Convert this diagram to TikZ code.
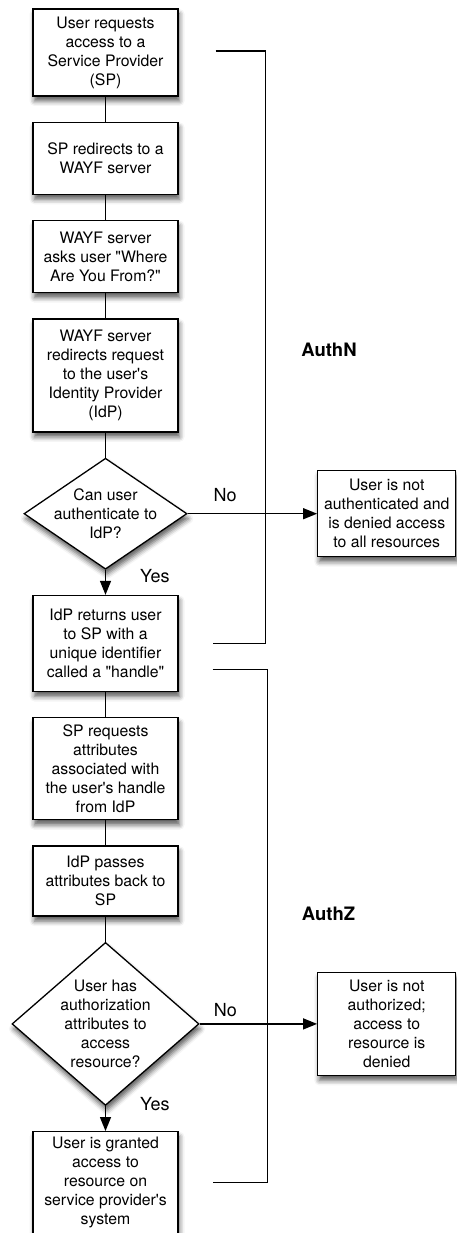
\documentclass[tikz,border=0pt]{standalone}
\usepackage{fontspec}
\newfontfamily\flowfont{TeX Gyre Heros}
\usetikzlibrary{%
  arrows.meta,%
  calc,%
  positioning,%
  shapes.geometric,%
  shadows.blur}

\begin{document}
\begin{tikzpicture}
  [x=1pt,y=1pt,node distance=25pt,line width=1.3pt,
   every node/.style={font=\flowfont\fontsize{15.8}{19}\selectfont},
   stepbox/.style={rectangle,draw=black,fill=white,align=center,
     minimum width=145pt,inner sep=2pt,
     blur shadow={shadow xshift=1.5pt,shadow yshift=-5pt,
       shadow blur radius=5pt,shadow opacity=65}},
   decision/.style={diamond,draw=black,fill=white,align=center,inner sep=-6pt,
     blur shadow={shadow xshift=1.5pt,shadow yshift=-5pt,
       shadow blur radius=5pt,shadow opacity=65}},
   link/.style={draw=black},
   branch/.style={-{Triangle[length=14pt,width=11pt]}},
   answer/.style={font=\flowfont\fontsize{18}{20}\selectfont,inner sep=0pt},
   phase/.style={font=\flowfont\fontsize{18.5}{20}\selectfont\bfseries},
   bracket/.style={draw=black}]

  \useasboundingbox (0,0) rectangle (456,-1233);

  % Authentication steps
  \node [stepbox,minimum height=87pt] (request) at (105.5,-52.5)
    {User requests\\access to a\\Service Provider\\(SP)};
  \node [stepbox,minimum height=72pt] (redirect) [below=of request]
    {SP redirects to a\\WAYF server};
  \node [stepbox,minimum height=72pt] (wayf)     [below=of redirect]
    {WAYF server\\asks user "Where\\Are You From?"};
  \node [stepbox,minimum height=113pt] (idp)     [below=of wayf]
    {WAYF server\\redirects request\\to the user's\\Identity Provider\\(IdP)};
  \node [decision,aspect=1.47,minimum width=163pt,minimum height=111pt]
                  (authn)    [below=of idp]
    {Can user\\authenticate to\\IdP?};
  \node [stepbox,minimum height=96pt] (handle)   [below=of authn]
    {IdP returns user\\to SP with a\\unique identifier\\called a "handle"};

  % Authorization steps
  \node [stepbox,minimum height=102pt] (attrreq) [below=of handle]
    {SP requests\\attributes\\associated with\\the user's handle\\from IdP};
  \node [stepbox,minimum height=70pt] (attrpass) [below=of attrreq]
    {IdP passes\\attributes back to\\SP};
  \node [decision,aspect=1.15,minimum width=187pt,minimum height=163pt]
                  (authz)    [below=of attrpass]
    {User has\\authorization\\attributes to\\access\\resource?};
  \node [stepbox,minimum height=102pt] (granted) [below=of authz]
    {User is granted\\access to\\resource on\\service provider's\\system};

  % Refusals
  \coordinate (rcol) at (386.75,0);
  \node [stepbox,minimum width=138pt,minimum height=86pt]
                  (deny authn) at (authn -| rcol)
    {User is not\\authenticated and\\is denied access\\to all resources};
  \node [stepbox,minimum width=138pt,minimum height=103pt]
                  (deny authz) at (authz -| rcol)
    {User is not\\authorized;\\access to\\resource is\\denied};

  \draw [link] (request) -- (redirect);
  \draw [link] (redirect) -- (wayf);
  \draw [link] (wayf) -- (idp);
  \draw [link] (idp) -- (authn);
  \draw [link,branch] (authn) -- (handle)
    node [answer,pos=0.25,right=34pt] {Yes};
  \draw [link,branch] (authn) -- (deny authn)
    node [answer,pos=0.29,above=11pt] {No};
  \draw [link] (handle) -- (attrreq);
  \draw [link] (attrreq) -- (attrpass);
  \draw [link] (attrpass) -- (authz);
  \draw [link,branch] (authz) -- (granted)
    node [answer,pos=0,right=34pt,yshift=2pt] {Yes};
  \draw [link,branch] (authz) -- (deny authz)
    node [answer,pos=0.22,above=6pt] {No};

  % Phase brackets
  \coordinate (authn top) at ([xshift=37pt,yshift=1.5pt]request.east);
  \coordinate (authn end) at ([xshift=34pt]handle.east);
  \draw [bracket] (authn top) -- ++(50pt,0) |- (authn end);
  \coordinate (authz top) at ([xshift=34pt,yshift=-26pt]handle.east);
  \coordinate (authz end) at ([xshift=34pt]granted.east);
  \draw [bracket] (authz top) -- ++(55pt,0) |- (authz end);

  \node [phase] (authn label) at (329,-350) {AuthN};
  \node [phase] (authz label) at (328.5,-914) {AuthZ};

\end{tikzpicture}
\end{document}
